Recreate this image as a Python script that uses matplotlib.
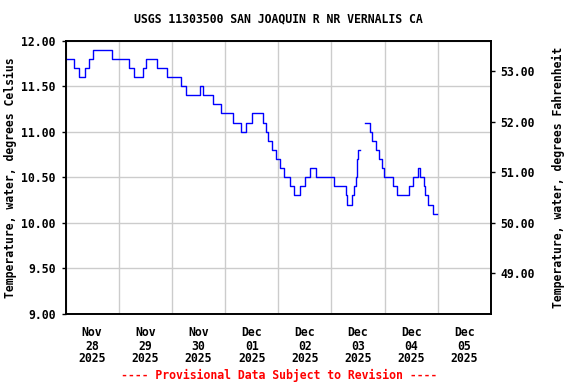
import matplotlib
matplotlib.use("Agg")
import matplotlib.pyplot as plt
import matplotlib.dates as mdates
import numpy as np
from datetime import datetime, timedelta

# Hours after 2025-11-28 00:00 where the value changes (step series), NaN = gap
hours = [0, 4.0, 6.25, 9.0, 10.75, 12.5, 21.0, 28.75, 31.0, 34.75, 36.25, 41.25,
         45.75, 52.0, 54.25, 60.75, 62.25, 66.75, 70.0, 75.75, 79.0, 81.25, 84.25,
         89.0, 90.5, 91.5, 93.25, 95.0, 96.75, 98.75, 101.5, 103.25, 106.0, 108.25,
         110.5, 113.25, 121.25, 126.5, 127.0, 129.5, 130.25, 131.0, 131.5, 131.75,
         132.0, 133.0, 135.25, 137.25, 138.5, 140.0, 141.5, 143.0, 143.75, 147.75,
         149.75, 155.0, 156.75, 159.0, 159.75, 161.75, 162.25, 163.75, 166.0, 167.5]
temp_c = [11.8, 11.7, 11.6, 11.7, 11.8, 11.9, 11.8, 11.7, 11.6, 11.7, 11.8, 11.7,
          11.6, 11.5, 11.4, 11.5, 11.4, 11.3, 11.2, 11.1, 11.0, 11.1, 11.2,
          11.1, 11.0, 10.9, 10.8, 10.7, 10.6, 10.5, 10.4, 10.3, 10.4, 10.5,
          10.6, 10.5, 10.4, 10.3, 10.2, 10.3, 10.4, 10.5, 10.6, 10.7,
          10.8, np.nan, 11.1, 11.0, 10.9, 10.8, 10.7, 10.6, 10.5, 10.4,
          10.3, 10.4, 10.5, 10.6, 10.5, 10.4, 10.3, 10.2, 10.1, 10.1]

day_labels = ["Nov\n28\n2025", "Nov\n29\n2025", "Nov\n30\n2025", "Dec\n01\n2025",
              "Dec\n02\n2025", "Dec\n03\n2025", "Dec\n04\n2025", "Dec\n05\n2025"]
c_ticks = [9.0, 9.5, 10.0, 10.5, 11.0, 11.5, 12.0]
f_ticks = [49, 50, 51, 52, 53]

title = "USGS 11303500 SAN JOAQUIN R NR VERNALIS CA"
footer = "---- Provisional Data Subject to Revision ----"

plt.rcParams['font.family'] = ['DejaVu Sans Mono']
plt.rcParams['font.weight'] = 'bold'
FS = 8.3

start = datetime(2025, 11, 28)
times = [start + timedelta(hours=h) for h in hours]

fig = plt.figure(figsize=(5.76, 3.84), dpi=100)
ax = fig.add_axes([65.5/576, 1-314/384, (491-65.5)/576, (314-40.5)/384])

ax.plot(times, temp_c, drawstyle='steps-post', color='#0000ff', lw=1.0)

ax.set_xlim(start, start + timedelta(days=8))
ax.set_ylim(9.0, 12.0)

# gridlines at midnight, labels at noon
ax.xaxis.set_major_locator(mdates.DayLocator())
ax.xaxis.set_major_formatter(plt.NullFormatter())
noon = [start + timedelta(days=i, hours=12) for i in range(8)]
ax.set_xticks(noon, minor=True)
ax.set_xticklabels(day_labels, minor=True, fontsize=FS, fontweight='bold', linespacing=1.0)
ax.tick_params(axis='x', which='both', length=0, pad=9)
ax.grid(True, which='major', color='#cccccc', lw=1.0)
ax.set_axisbelow(True)

ax.set_yticks(c_ticks)
ax.set_yticklabels(["%.2f" % v for v in c_ticks], fontsize=FS, fontweight='bold')
ax.tick_params(axis='y', length=3, width=1, pad=4)
ax.set_ylabel("Temperature, water, degrees Celsius", fontsize=FS, fontweight='bold', labelpad=3)

for s in ax.spines.values():
    s.set_linewidth(1.2)

ax2 = ax.twinx()
ax2.set_ylim(9.0*1.8+32, 12.0*1.8+32)
ax2.set_yticks(f_ticks)
ax2.set_yticklabels(["%.2f" % v for v in f_ticks], fontsize=FS, fontweight='bold')
ax2.tick_params(axis='y', length=3, width=1, pad=4)
ax2.set_ylabel("Temperature, water, degrees Fahrenheit", fontsize=FS, fontweight='bold', labelpad=12)
for s in ax2.spines.values():
    s.set_linewidth(1.2)

fig.text(278/576, 1-19/384, title, ha='center', va='center', fontsize=FS, fontweight='bold')
fig.text(279/576, 1-375/384, footer, ha='center', va='center', fontsize=FS, fontweight='bold', color='#ff0000')

fig.savefig("out.png", dpi=100)
